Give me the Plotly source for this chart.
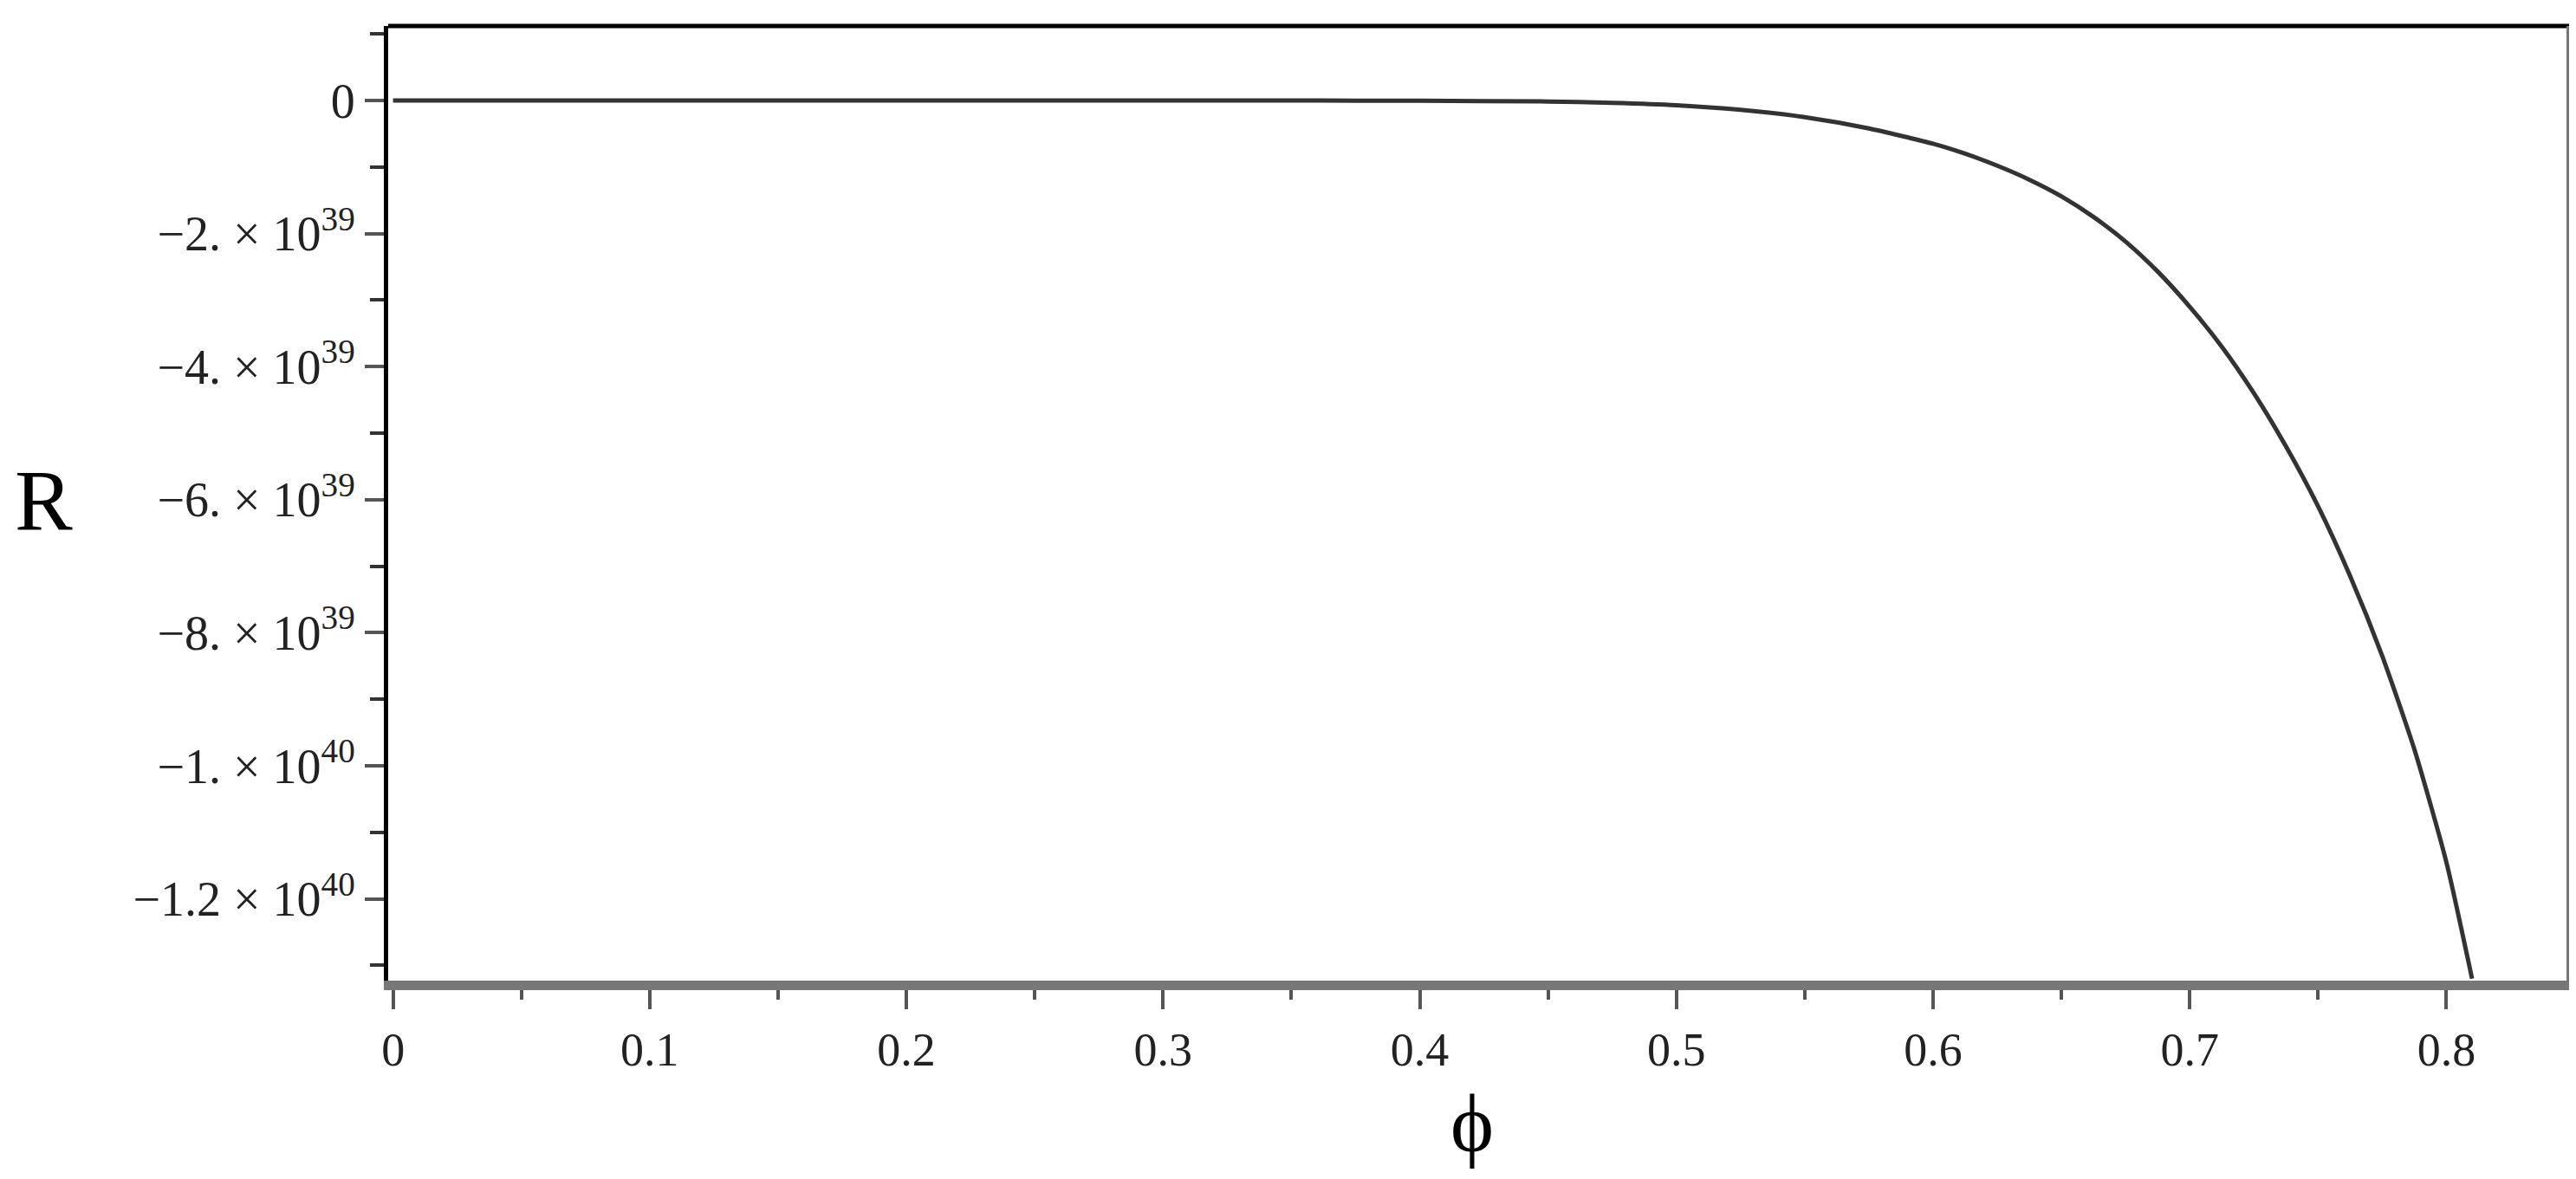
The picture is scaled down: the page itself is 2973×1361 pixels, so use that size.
import plotly.graph_objects as go

# curve (R in units of 1e39)
phi = [0, 0.05, 0.1, 0.15, 0.2, 0.25, 0.3, 0.35, 0.4, 0.45, 0.475, 0.5, 0.525, 0.55,
       0.575, 0.6, 0.6125, 0.625, 0.6375, 0.65, 0.6625, 0.675, 0.6875, 0.7, 0.7125,
       0.725, 0.7375, 0.75, 0.7625, 0.775, 0.7875, 0.8, 0.81]
R_e39 = [0, 0, 0, 0, 0, 0, 0, 0, -0.004, -0.015, -0.035, -0.07, -0.14, -0.25,
         -0.42, -0.65, -0.8, -0.98, -1.19, -1.44, -1.75, -2.12, -2.57, -3.1, -3.7,
         -4.4, -5.2, -6.1, -7.15, -8.35, -9.75, -11.45, -13.2]

x_ticks = [0, 0.1, 0.2, 0.3, 0.4, 0.5, 0.6, 0.7, 0.8]
x_labels = ["0", "0.1", "0.2", "0.3", "0.4", "0.5", "0.6", "0.7", "0.8"]
y_ticks = [0, -2e39, -4e39, -6e39, -8e39, -1e40, -1.2e40]
y_labels = ["0",
            "\u22122. \u00d7 10<sup>39</sup>",
            "\u22124. \u00d7 10<sup>39</sup>",
            "\u22126. \u00d7 10<sup>39</sup>",
            "\u22128. \u00d7 10<sup>39</sup>",
            "\u22121. \u00d7 10<sup>40</sup>",
            "\u22121.2 \u00d7 10<sup>40</sup>"]

R = [v * 1e39 for v in R_e39]

FONT = "Liberation Serif"

fig = go.Figure()
fig.add_trace(go.Scatter(x=phi, y=R, mode="lines",
                         line=dict(color="#333333", width=5, shape="spline", smoothing=0.6),
                         showlegend=False))

fig.update_layout(
    width=2973, height=1361,
    margin=dict(l=440, r=16, t=22, b=237),
    plot_bgcolor="white", paper_bgcolor="white",
    font=dict(family=FONT, color="black"),
    shapes=[
        dict(type="line", xref="paper", yref="paper", x0=0, x1=1, y0=1, y1=1,
             line=dict(color="black", width=5)),
        dict(type="line", xref="paper", yref="paper", x0=1, x1=1, y0=0, y1=1,
             line=dict(color="#777777", width=6)),
    ],
    annotations=[
        dict(text="R", xref="paper", yref="paper", x=-0.158, y=0.503,
             xanchor="center", yanchor="middle", showarrow=False,
             font=dict(family=FONT, size=100, color="black")),
        dict(text="\u03d5", xref="paper", yref="paper", x=0.497, y=-0.15,
             xanchor="center", yanchor="middle", showarrow=False,
             font=dict(family=FONT, size=95, color="black")),
    ],
)

fig.update_xaxes(
    range=[-0.0019, 0.8478], showgrid=False, zeroline=False,
    showline=True, linecolor="#777777", linewidth=11,
    tickmode="array", tickvals=x_ticks, ticktext=x_labels,
    ticks="outside", ticklen=22, tickwidth=4, tickcolor="#555555",
    tickfont=dict(family=FONT, size=54, color="#222222"),
    minor=dict(dtick=0.05, tick0=0, ticks="outside", ticklen=11,
               tickwidth=4, tickcolor="#555555"),
)
fig.update_yaxes(
    range=[-1.323e40, 1.12e39], showgrid=False, zeroline=False,
    showline=True, linecolor="black", linewidth=5,
    tickmode="array", tickvals=y_ticks, ticktext=y_labels,
    ticks="outside", ticklen=22, tickwidth=4, tickcolor="#555555",
    tickfont=dict(family=FONT, size=56, color="#222222"),
    minor=dict(dtick=1e39, tick0=0, ticks="outside", ticklen=16,
               tickwidth=4, tickcolor="#333333"),
)

fig.write_html("out.html")
